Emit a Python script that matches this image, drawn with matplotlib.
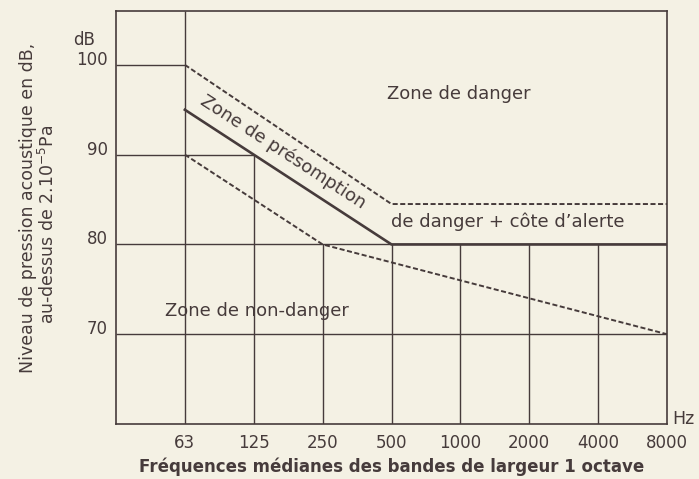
import matplotlib
matplotlib.use('Agg')
import matplotlib.pyplot as plt
from matplotlib import transforms

# ---- data ----
freq_labels = ['63', '125', '250', '500', '1000', '2000', '4000', '8000']
freq_pos = [1, 2, 3, 4, 5, 6, 7, 8]          # octave band index (31.5 Hz = 0)
db_ticks = [70, 80, 90, 100]
db_labels = ['70', '80', '90', '100']

# boundary lines (octave index, dB)
upper_x = [1, 4, 8]
upper_db = [100, 84.5, 84.5]
limit_x = [1, 4, 8]
limit_db = [95, 80, 80]
lower_x = [1, 3, 8]
lower_db = [90, 80, 70]

# grid extents
vgrid_x = [1, 2, 3, 4, 5, 6, 7]
vgrid_top = [106, 90, 80, 80, 80, 80, 80]
hgrid_db = [100, 90, 80, 70]
hgrid_end = [1, 2, 8, 8]

bg = '#f4f1e4'
ink = '#463b3b'
plt.rcParams['font.family'] = ['DejaVu Sans']

fig = plt.figure(figsize=(6.99, 4.79), dpi=100, facecolor=bg)
ax = fig.add_axes([116 / 699, 1 - 424 / 479, 551 / 699, 413 / 479])
ax.set_facecolor(bg)
ax.set_xlim(0, 8)
ax.set_ylim(60, 106)

for s in ax.spines.values():
    s.set_color(ink)
    s.set_linewidth(1.2)

# grid
for x, top in zip(vgrid_x, vgrid_top):
    ax.plot([x, x], [60, top], color=ink, lw=1.0, solid_capstyle='butt')
for y, end in zip(hgrid_db, hgrid_end):
    ax.plot([0, end], [y, y], color=ink, lw=1.0, solid_capstyle='butt')

# boundaries
dash = (0, (2.6, 1.3))
ax.plot(upper_x, upper_db, color=ink, lw=1.4, linestyle=dash)
ax.plot(lower_x, lower_db, color=ink, lw=1.4, linestyle=dash)
ax.plot(limit_x, limit_db, color=ink, lw=1.9, solid_joinstyle='miter')

# ticks
ax.set_xticks(freq_pos, freq_labels)
ax.set_yticks(db_ticks, db_labels)
ax.tick_params(axis='x', length=0, pad=7, labelsize=12, labelcolor=ink)
ax.tick_params(axis='y', length=0, pad=6, labelsize=12, labelcolor=ink)
for lbl in ax.get_yticklabels():
    lbl.set_verticalalignment('baseline')

tr = transforms.blended_transform_factory(ax.transAxes, ax.transData)
ax.text(-0.078, 102.2, 'dB', transform=tr, ha='left', va='baseline',
        fontsize=12, color=ink)
ax.text(1.009, 0, 'Hz', transform=ax.transAxes, ha='left', va='baseline',
        fontsize=12.5, color=ink)

# zone annotations
ax.text(4.98, 96.2, 'Zone de danger', ha='center', va='baseline',
        fontsize=13, color=ink)
ax.text(5.69, 81.9, 'de danger + côte d\u2019alerte', ha='center',
        va='baseline', fontsize=13, color=ink)
ax.text(2.05, 72.0, 'Zone de non-danger', ha='center', va='baseline',
        fontsize=13, color=ink)
ax.text(2.42, 90.3, 'Zone de présomption', ha='center', va='center',
        rotation=-33, rotation_mode='anchor', fontsize=13, color=ink)

# axis titles
ax.text(0.5, -0.080, 'Fréquences médianes des bandes de largeur 1 octave',
        transform=ax.transAxes, ha='center', va='top', fontsize=12,
        fontweight='bold', color=ink)
fig.text(28 / 699, 1 - 208 / 479, 'Niveau de pression acoustique en dB,',
         rotation=90, ha='center', va='center', fontsize=12.5, color=ink)
fig.text(48 / 699, 1 - 224 / 479, 'au-dessus de 2.10$^{-5}$Pa',
         rotation=90, ha='center', va='center', fontsize=12.5, color=ink)

fig.savefig('out.png', dpi=100, facecolor=bg)
